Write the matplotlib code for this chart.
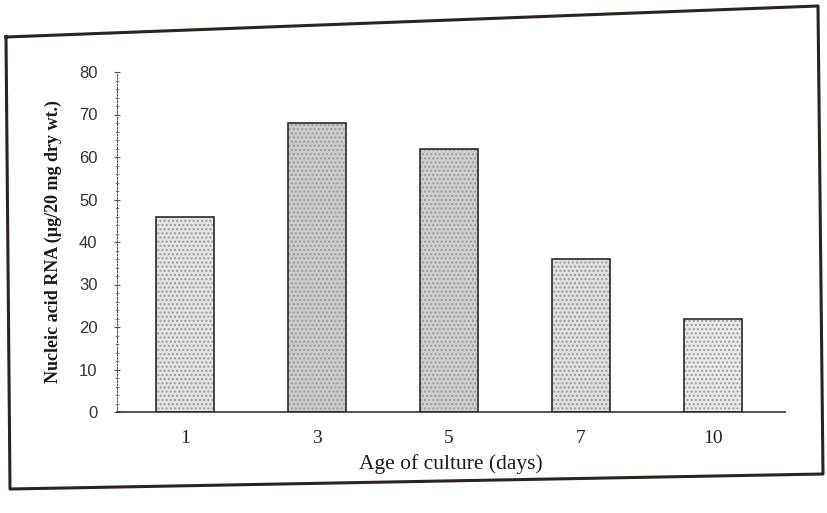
import matplotlib
matplotlib.use("Agg")
import matplotlib.pyplot as plt
from matplotlib.lines import Line2D

days = ["1", "3", "5", "7", "10"]
rna = [46, 68, 62, 36, 22]
fills = ["#e4e4e4", "#cbcbcb", "#cfcfcf", "#e0e0e0", "#eaeaea"]
y_ticks = [0, 10, 20, 30, 40, 50, 60, 70, 80]

W, H = 827, 513
fig = plt.figure(figsize=(W / 100, H / 100), dpi=100)
fig.patch.set_facecolor("white")

ax = fig.add_axes([117 / W, 1 - 412 / H, (785 - 117) / W, (412 - 72) / H])
x = list(range(len(days)))

# textured fill + outline
ax.bar(x, rna, width=0.44, color=fills, edgecolor="#9a9a9a", hatch="....", linewidth=0, zorder=2)
ax.bar(x, rna, width=0.44, fill=False, edgecolor="#2a2a2a", linewidth=1.2, zorder=3)

ax.set_xlim(-0.515, 4.545)
ax.set_ylim(0, 80)
ax.set_xticks(x)
ax.set_xticklabels(days, family="Liberation Serif", fontsize=14, color="#222222")
ax.tick_params(axis="x", length=0, pad=13)
ax.set_yticks(y_ticks)
ax.set_yticklabels([str(v) for v in y_ticks], family="Liberation Sans", fontsize=12, color="#333333")
ax.set_yticks(list(range(0, 81, 2)), minor=True)
ax.tick_params(axis="y", which="major", length=4, width=0.8, direction="inout", pad=12, color="#555555")
ax.tick_params(axis="y", which="minor", length=2.5, width=0.6, direction="inout", color="#777777")

for s in ["top", "right"]:
    ax.spines[s].set_visible(False)
ax.spines["left"].set_linestyle((0, (1.5, 1.5)))
ax.spines["left"].set_linewidth(0.8)
ax.spines["left"].set_color("#555555")
ax.spines["bottom"].set_linewidth(1.2)
ax.spines["bottom"].set_color("#333333")

ax.set_xlabel("Age of culture (days)", family="Liberation Serif", fontsize=15.5, color="#1a1a1a", labelpad=5)
ax.set_ylabel("Nucleic acid RNA (µg/20 mg dry wt.)", family="Liberation Serif", fontsize=13,
              fontweight="bold", color="#1a1a1a", labelpad=12)

# scanned page frame
pts = [(6, 37), (818, 6), (823, 474), (10, 489), (6, 37)]
xs = [p[0] / W for p in pts]
ys = [1 - p[1] / H for p in pts]
fig.add_artist(Line2D(xs, ys, transform=fig.transFigure, color="#2b2420", linewidth=2.2))

fig.savefig("out.png", dpi=100)
